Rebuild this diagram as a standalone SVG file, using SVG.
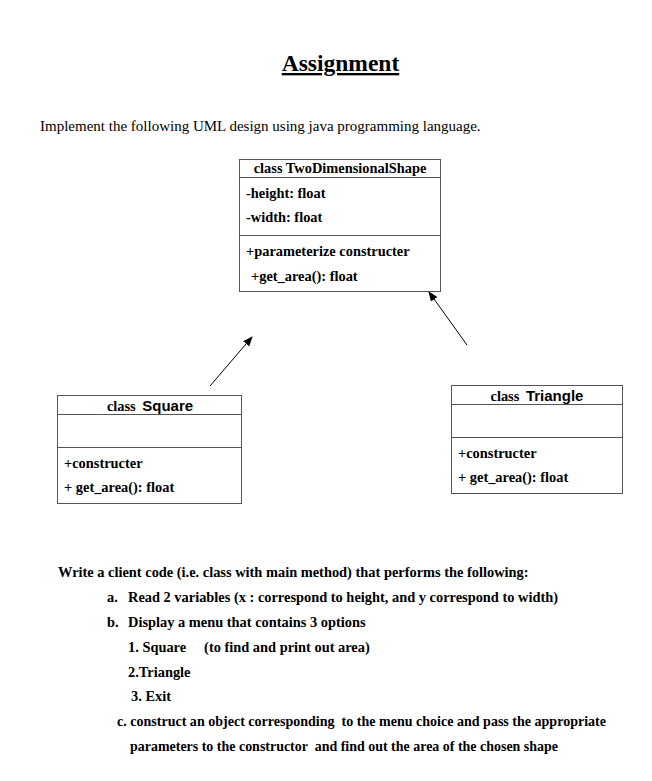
<svg xmlns="http://www.w3.org/2000/svg" width="652" height="781" viewBox="0 0 652 781">
<style>
.t{font-family:"Liberation Serif","Times New Roman",serif;fill:#000}
.b{font-weight:bold;font-size:14.4px}
.box{fill:#fff;stroke:#555;stroke-width:1}
.sep{stroke:#555;stroke-width:1}
.ar{font-family:"Liberation Sans",Arial,sans-serif;font-weight:bold;font-size:15px}
.conn{stroke:#000;stroke-width:1;fill:none;marker-end:url(#ah)}
</style>
<defs>
<marker id="ah" markerWidth="10" markerHeight="8" refX="9" refY="4" orient="auto" markerUnits="userSpaceOnUse">
<path d="M0,0 L10,4 L0,8 Z" fill="#000"/>
</marker>
</defs>
<rect width="652" height="781" fill="#fff"/>
<text class="t" x="340.5" y="71" text-anchor="middle" font-size="23.5" font-weight="bold" text-decoration="underline">Assignment</text>
<text class="t" x="40" y="131" font-size="15">Implement the following UML design using java programming language.</text>

<g id="TwoDimensionalShape">
<rect class="box" x="239.5" y="159.5" width="201" height="132"/>
<line class="sep" x1="239.5" y1="177.5" x2="440.5" y2="177.5"/>
<line class="sep" x1="239.5" y1="235.5" x2="440.5" y2="235.5"/>
<text class="t b" x="340" y="173" text-anchor="middle">class TwoDimensionalShape</text>
<text class="t b" x="246" y="198">-height: float</text>
<text class="t b" x="246" y="222">-width: float</text>
<text class="t b" x="246" y="256">+parameterize constructer</text>
<text class="t b" x="251" y="281">+get_area(): float</text>
</g>

<g id="Square">
<rect class="box" x="57.5" y="395.5" width="184" height="108"/>
<line class="sep" x1="57.5" y1="414.5" x2="241.5" y2="414.5"/>
<line class="sep" x1="57.5" y1="447.5" x2="241.5" y2="447.5"/>
<text x="150" y="411" text-anchor="middle"><tspan class="t b">class </tspan><tspan class="ar" dx="3">Square</tspan></text>
<text class="t b" x="64" y="468">+constructer</text>
<text class="t b" x="64" y="492">+ get_area(): float</text>
</g>

<g id="Triangle">
<rect class="box" x="451.5" y="385.5" width="171" height="108"/>
<line class="sep" x1="451.5" y1="404.5" x2="622.5" y2="404.5"/>
<line class="sep" x1="451.5" y1="437.5" x2="622.5" y2="437.5"/>
<text x="537" y="401" text-anchor="middle"><tspan class="t b">class </tspan><tspan class="ar" dx="3">Triangle</tspan></text>
<text class="t b" x="458" y="458">+constructer</text>
<text class="t b" x="458" y="482">+ get_area(): float</text>
</g>

<g id="connectors">
<line class="conn" x1="210" y1="386" x2="252" y2="337"/>
<line class="conn" x1="467" y1="345" x2="429" y2="292"/>
</g>

<g id="instructions">
<text class="t b" x="58" y="577">Write a client code (i.e. class with main method) that performs the following:</text>
<text class="t b" x="107" y="602">a.</text>
<text class="t b" x="128" y="602">Read 2 variables (x : correspond to height, and y correspond to width)</text>
<text class="t b" x="107" y="627">b.</text>
<text class="t b" x="128" y="627">Display a menu that contains 3 options</text>
<text class="t b" x="128" y="652" xml:space="preserve">1. Square     (to find and print out area)</text>
<text class="t b" x="128" y="677">2.Triangle</text>
<text class="t b" x="131" y="701">3. Exit</text>
<text class="t b" x="117" y="726" textLength="489" lengthAdjust="spacingAndGlyphs" xml:space="preserve">c. construct an object corresponding  to the menu choice and pass the appropriate</text>
<text class="t b" x="130" y="751" textLength="428" lengthAdjust="spacingAndGlyphs" xml:space="preserve">parameters to the constructor  and find out the area of the chosen shape</text>
</g>
</svg>
